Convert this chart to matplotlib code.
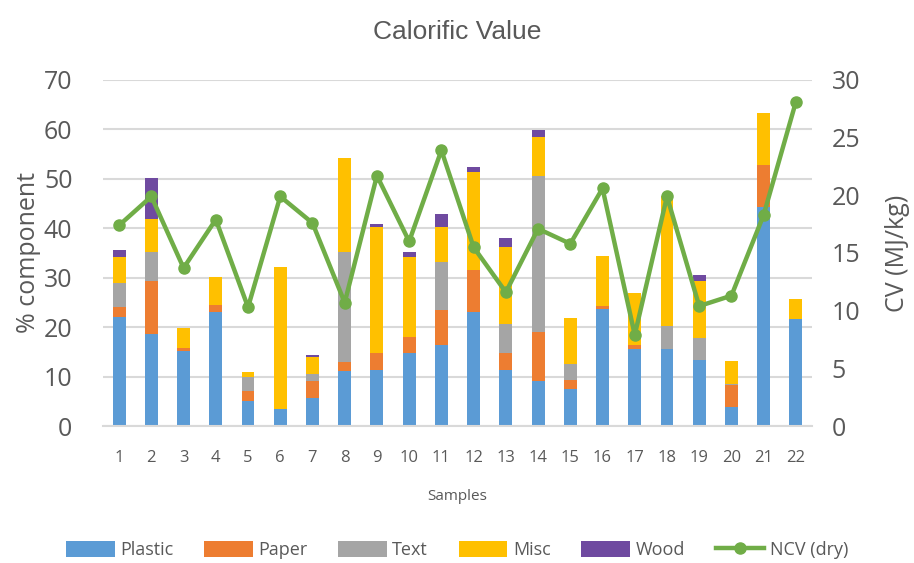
#import libraries
import matplotlib.pyplot as plt
import numpy as np

#sample numbers and the composition of each sample (% component)
samples = list(range(1, 23))
plastic = [22.0, 18.7, 15.2, 23.1, 5.0, 3.4, 5.7, 11.2, 11.4, 14.7, 16.4,
           23.1, 11.4, 9.1, 7.4, 23.7, 15.6, 15.6, 13.4, 3.9, 44.4, 21.6]
paper = [2.1, 10.6, 0.6, 1.4, 2.1, 0, 3.4, 1.8, 3.3, 3.4, 7.1,
         8.5, 3.4, 9.9, 1.9, 0.6, 0.8, 0, 0, 4.4, 8.3, 0]
text = [4.8, 6.0, 0, 0, 2.8, 0, 1.4, 22.3, 0, 0, 9.7,
        0, 5.9, 31.5, 3.3, 0, 0, 4.7, 4.5, 0.2, 0, 0]
misc = [5.3, 6.6, 4.1, 5.7, 1.1, 28.8, 3.4, 18.9, 25.5, 16.1, 7.0,
        19.8, 15.5, 8.0, 9.2, 10.1, 10.5, 26.2, 11.4, 4.7, 10.6, 4.0]
wood = [1.5, 8.2, 0, 0, 0, 0, 0.4, 0, 0.7, 0.9, 2.6,
        0.9, 1.9, 1.3, 0, 0, 0, 0, 1.2, 0, 0, 0]

#net calorific value (dry) in MJ/kg
ncv = [17.4, 19.9, 13.7, 17.9, 10.3, 19.9, 17.6, 10.7, 21.7, 16.0, 23.9,
       15.5, 11.6, 17.1, 15.8, 20.6, 7.9, 19.9, 10.4, 11.3, 18.3, 28.1]

series = [("Plastic", plastic, "#5B9BD5"), ("Paper", paper, "#ED7D31"),
          ("Text", text, "#A5A5A5"), ("Misc", misc, "#FFC000"),
          ("Wood", wood, "#6F4AA0")]

txt_color = "#595959"
plt.rcParams['font.family'] = ['Open Sans', 'DejaVu Sans']

fig = plt.figure(figsize=(9.14, 5.63), dpi=100)
ax = fig.add_axes([0.1127, 0.2433, 0.7757, 0.6147])

#stacked bars
bottom = np.zeros(len(samples))
handles = []
for name, vals, col in series:
    b = ax.bar(samples, vals, 0.4, bottom=bottom, color=col, label=name, zorder=2)
    handles.append(b)
    bottom += np.array(vals)

ax.set_ylim(0, 70)
ax.set_xlim(0.5, 22.5)
ax.set_yticks(range(0, 71, 10))
ax.set_xticks(samples)
ax.yaxis.grid(True, color="#D9D9D9", linewidth=1.5, zorder=0)
ax.set_axisbelow(True)
for s in ["top", "right", "left"]:
    ax.spines[s].set_visible(False)
ax.spines["bottom"].set_color("#D9D9D9")
ax.spines["bottom"].set_linewidth(1.5)
ax.tick_params(axis="y", length=0, labelsize=18, labelcolor=txt_color, pad=22)
ax.tick_params(axis="x", length=0, labelsize=12, labelcolor=txt_color, pad=17)
ax.set_ylabel("% component", fontsize=18, color=txt_color, labelpad=2)
ax.set_xlabel("Samples", fontsize=11, color=txt_color, labelpad=17)

#NCV line on secondary axis
ax2 = ax.twinx()
line, = ax2.plot(samples, ncv, color="#70AD47", linewidth=3.2, marker="o",
                 markersize=8, label="NCV (dry)", zorder=3)
ax2.set_ylim(0, 30)
ax2.set_yticks(range(0, 31, 5))
for s in ["top", "right", "left", "bottom"]:
    ax2.spines[s].set_visible(False)
ax2.tick_params(axis="y", length=0, labelsize=18, labelcolor=txt_color, pad=14)
ax2.set_ylabel("CV (MJ/kg)", fontsize=18, color=txt_color, labelpad=18)

fig.suptitle("Calorific Value", fontsize=19, color=txt_color,
             family=['Liberation Sans'], y=0.965)

fig.legend(handles + [line], [h.get_label() for h in handles] + ["NCV (dry)"],
           loc="center", bbox_to_anchor=(0.5, 0.023), ncol=6, frameon=False,
           fontsize=13, labelcolor=txt_color, handlelength=2.7, handleheight=1.0,
           columnspacing=1.7, handletextpad=0.3)

fig.savefig("out.png", dpi=100)
